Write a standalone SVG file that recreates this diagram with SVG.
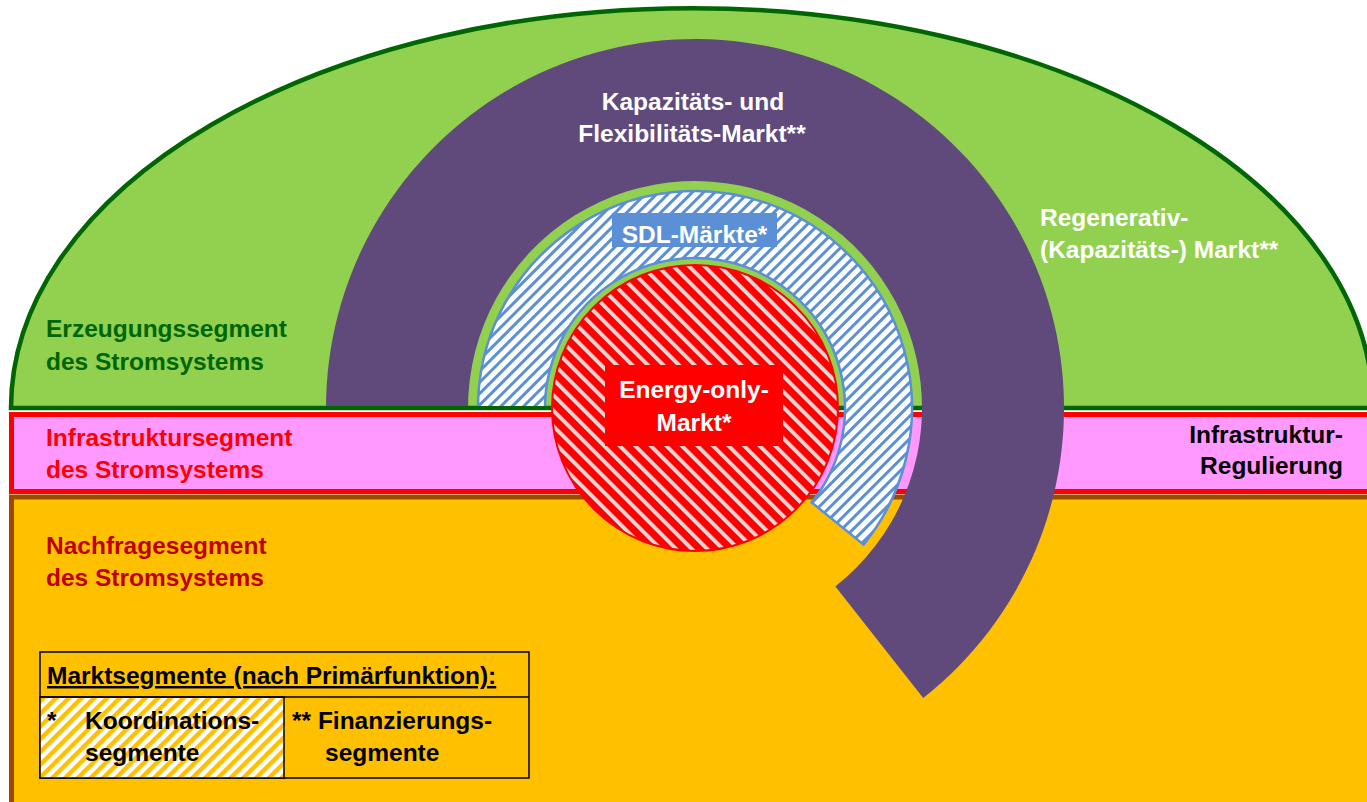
<svg xmlns="http://www.w3.org/2000/svg" width="1367" height="802" viewBox="0 0 1367 802">
<defs>
<pattern id="hBlue" patternUnits="userSpaceOnUse" width="8" height="8" patternTransform="rotate(45)">
<rect width="8" height="8" fill="#FFFFFF"/><rect width="3" height="8" fill="#5B8FD6"/>
</pattern>
<pattern id="hRed" patternUnits="userSpaceOnUse" width="11" height="11" patternTransform="rotate(-45)">
<rect width="11" height="11" fill="#FF0000"/><rect width="3.8" height="11" fill="#D9D9D9"/>
</pattern>
<pattern id="hYellow" patternUnits="userSpaceOnUse" width="9" height="9" patternTransform="rotate(45)">
<rect width="9" height="9" fill="#FFFFFF"/><rect width="4.5" height="9" fill="#FFC000"/>
</pattern>
<style>
text{font-family:"Liberation Sans",Arial,sans-serif;font-weight:bold;font-size:24.5px}
.w{fill:#FFFFFF}
.k{fill:#000000}
.mid{text-anchor:middle}
</style>
</defs>
<rect width="1367" height="802" fill="#FFFFFF"/>
<g id="erzeugung">
<path d="M11,408 A681,400 0 0 1 1373,408 Z" fill="#92D050" stroke="#006600" stroke-width="4.5"/>
<text x="46" y="337" fill="#006600">Erzeugungssegment</text>
<text x="46" y="370" fill="#006600">des Stromsystems</text>
</g>
<g id="infrastruktur">
<rect x="11.5" y="414.5" width="1370" height="77" fill="#FF99FF" stroke="#FF0000" stroke-width="5"/>
<text x="46" y="446" fill="#FF0000">Infrastruktursegment</text>
<text x="46" y="478" fill="#FF0000">des Stromsystems</text>
<text x="1343" y="443" class="k" text-anchor="end">Infrastruktur-</text>
<text x="1343" y="474" class="k" text-anchor="end">Regulierung</text>
</g>
<g id="nachfrage">
<rect x="11.5" y="497" width="1370" height="320" fill="#FFC000" stroke="#9C4A00" stroke-width="5"/>
<text x="46" y="554" fill="#C00000">Nachfragesegment</text>
<text x="46" y="586" fill="#C00000">des Stromsystems</text>
</g>
<g id="kapazitaetsmarkt">
<path d="M326,408 A369,369 0 1 1 923.2,698 L835.4,586.4 A227,227 0 1 0 468,408 Z" fill="#604A7B"/>
<text x="693" y="110" class="w mid">Kapazitäts- und</text>
<text x="692" y="142" class="w mid">Flexibilitäts-Markt**</text>
</g>
<g id="regenerativmarkt">
<text x="1040" y="226" class="w">Regenerativ-</text>
<text x="1040" y="258" class="w">(Kapazitäts-) Markt**</text>
</g>
<g id="sdl">
<path d="M478,408 A217,217 0 1 1 863.6,544.6 L811.6,502.4 A150,150 0 1 0 545,408 Z" fill="url(#hBlue)" stroke="#5B8FD6" stroke-width="2.5"/>
<line x1="320" y1="408" x2="560" y2="408" stroke="#006600" stroke-width="4"/>
<rect x="612" y="213" width="165" height="34" fill="#5B8FD6"/>
<text x="694.5" y="243" class="w mid">SDL-Märkte*</text>
</g>
<g id="energyonly">
<circle cx="695" cy="408" r="143" fill="url(#hRed)" stroke="#FF0000" stroke-width="2"/>
<rect x="605" y="365" width="178" height="81" fill="#FF0000"/>
<text x="694" y="398" class="w mid">Energy-only-</text>
<text x="694" y="431" class="w mid">Markt*</text>
</g>
<g id="legende">
<rect x="40" y="652" width="489" height="126" fill="#FFC000" stroke="#000000" stroke-width="1.5"/>
<rect x="40" y="697" width="244" height="81" fill="url(#hYellow)" stroke="#000000" stroke-width="1.5"/>
<line x1="40" y1="697" x2="529" y2="697" stroke="#000000" stroke-width="1.5"/>
<text x="47" y="684" class="k" text-decoration="underline">Marktsegmente (nach Primärfunktion):</text>
<text x="47" y="729" class="k">*</text>
<text x="85" y="729" class="k">Koordinations-</text>
<text x="85" y="761" class="k">segmente</text>
<text x="292" y="729" class="k">** Finanzierungs-</text>
<text x="325" y="761" class="k">segmente</text>
</g>
</svg>
